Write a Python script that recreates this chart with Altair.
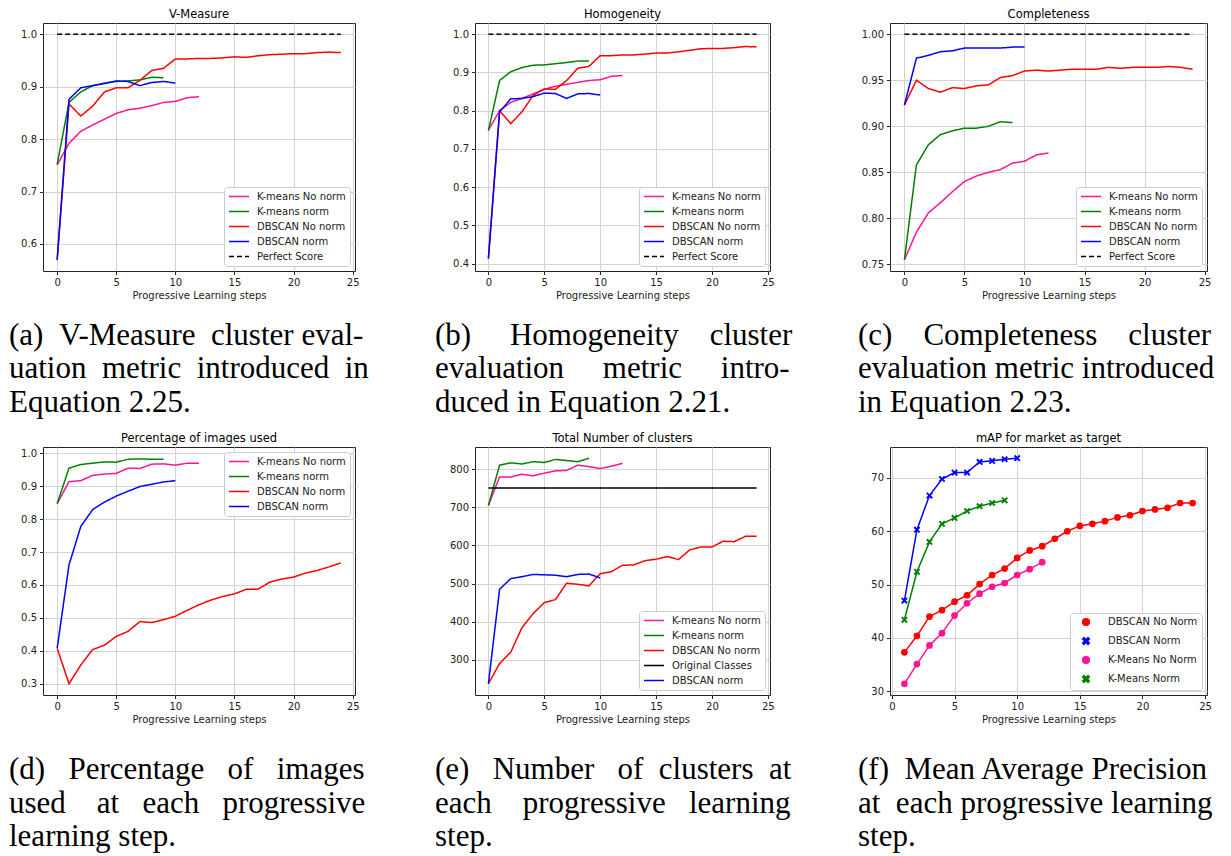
import altair as alt
import pandas as pd

# ---------------- data ----------------
STEPS = list(range(25))
MAP_STEPS = list(range(1, 25))

# (a) V-Measure
VM_KM_NONORM = [0.751, 0.792, 0.815, 0.827, 0.838, 0.849, 0.856, 0.859, 0.864, 0.870, 0.872, 0.879, 0.881]
VM_KM_NORM = [0.752, 0.870, 0.890, 0.902, 0.907, 0.910, 0.911, 0.913, 0.918, 0.917]
VM_DB_NONORM = [0.570, 0.867, 0.844, 0.863, 0.890, 0.898, 0.898, 0.912, 0.931, 0.935, 0.953, 0.953, 0.954,
                0.954, 0.955, 0.957, 0.956, 0.959, 0.961, 0.962, 0.963, 0.963, 0.965, 0.966, 0.965]
VM_DB_NORM = [0.570, 0.876, 0.898, 0.902, 0.906, 0.911, 0.910, 0.902, 0.908, 0.910, 0.907]

# (b) Homogeneity
HO_KM_NONORM = [0.749, 0.800, 0.822, 0.832, 0.844, 0.856, 0.864, 0.869, 0.874, 0.879, 0.881, 0.890, 0.892]
HO_KM_NORM = [0.748, 0.879, 0.902, 0.913, 0.919, 0.920, 0.923, 0.926, 0.930, 0.930]
HO_DB_NONORM = [0.413, 0.800, 0.766, 0.797, 0.840, 0.857, 0.856, 0.879, 0.911, 0.916, 0.944, 0.944, 0.946,
                0.946, 0.948, 0.951, 0.951, 0.954, 0.958, 0.962, 0.963, 0.963, 0.965, 0.968, 0.967]
HO_DB_NORM = [0.413, 0.797, 0.831, 0.832, 0.837, 0.846, 0.845, 0.832, 0.844, 0.845, 0.841]

# (c) Completeness
CO_KM_NONORM = [0.755, 0.785, 0.806, 0.817, 0.829, 0.840, 0.846, 0.850, 0.853, 0.860, 0.862, 0.869, 0.871]
CO_KM_NORM = [0.755, 0.858, 0.880, 0.891, 0.895, 0.898, 0.898, 0.900, 0.905, 0.904]
CO_DB_NONORM = [0.923, 0.950, 0.941, 0.937, 0.942, 0.941, 0.944, 0.945, 0.953, 0.955, 0.960, 0.961, 0.960,
                0.961, 0.962, 0.962, 0.962, 0.964, 0.963, 0.964, 0.964, 0.964, 0.965, 0.964, 0.962]
CO_DB_NORM = [0.923, 0.974, 0.977, 0.981, 0.982, 0.985, 0.985, 0.985, 0.985, 0.986, 0.986]

# (d) Percentage of images used
PI_KM_NONORM = [0.847, 0.914, 0.917, 0.933, 0.937, 0.939, 0.955, 0.954, 0.967, 0.968, 0.964, 0.970, 0.970]
PI_KM_NORM = [0.847, 0.955, 0.966, 0.970, 0.974, 0.973, 0.982, 0.983, 0.982, 0.982]
PI_DB_NONORM = [0.408, 0.300, 0.357, 0.404, 0.417, 0.444, 0.459, 0.489, 0.486, 0.495, 0.505, 0.523, 0.540,
                0.554, 0.565, 0.573, 0.587, 0.587, 0.609, 0.618, 0.624, 0.636, 0.644, 0.655, 0.667]
PI_DB_NORM = [0.408, 0.661, 0.778, 0.829, 0.852, 0.870, 0.885, 0.899, 0.906, 0.913, 0.917]

# (e) Total number of clusters
NC_KM_NONORM = [705, 780, 780, 787, 783, 790, 796, 797, 811, 807, 802, 808, 816]
NC_KM_NORM = [705, 811, 817, 814, 820, 818, 826, 823, 820, 829]
NC_DB_NONORM = [237, 290, 320, 384, 421, 450, 458, 501, 498, 494, 526, 531, 548, 549, 560, 564, 571, 563,
                588, 596, 596, 611, 610, 624, 624]
NC_DB_NORM = [237, 485, 513, 518, 524, 523, 522, 518, 524, 525, 515]
ORIGINAL_CLASSES = [751, 751]

# (f) mAP for market as target (steps start at 1)
MAP_DB_NONORM = [37.3, 40.4, 44.0, 45.2, 46.8, 48.0, 50.1, 51.8, 53.0, 55.0, 56.4, 57.2, 58.6, 60.0, 61.0,
                 61.4, 61.9, 62.6, 63.0, 63.8, 64.1, 64.4, 65.3, 65.3]
MAP_DB_NORM = [47.0, 60.3, 66.7, 69.8, 71.0, 71.0, 73.0, 73.2, 73.5, 73.7]
MAP_KM_NONORM = [31.4, 35.1, 38.6, 40.9, 44.2, 46.5, 48.3, 49.6, 50.3, 51.8, 52.9, 54.2]
MAP_KM_NORM = [43.4, 52.4, 58.0, 61.4, 62.5, 63.8, 64.7, 65.3, 65.8]

PERFECT = [1.0, 1.0]
FULL_SPAN = [0, 24]

SERIES4 = ["K-means No norm", "K-means norm", "DBSCAN No norm", "DBSCAN norm"]
MAP_SERIES = ["DBSCAN No Norm", "DBSCAN Norm", "K-Means No Norm", "K-Means Norm"]

CAPTIONS = {
    "a": ["(a) V-Measure cluster eval-", "uation metric introduced in", "Equation 2.25."],
    "b": ["(b) Homogeneity cluster", "evaluation metric intro-", "duced in Equation 2.21."],
    "c": ["(c) Completeness cluster", "evaluation metric introduced", "in Equation 2.23."],
    "d": ["(d) Percentage of images", "used at each progressive", "learning step."],
    "e": ["(e) Number of clusters at", "each progressive learning", "step."],
    "f": ["(f) Mean Average Precision", "at each progressive learning", "step."],
}

# ---------------- styling ----------------
FONT = "DejaVu Sans"
SERIF = "Liberation Serif"
CAP_SIZE = 31
PINK, GREEN, RED, BLUE, BLACK = "#ff1493", "#008000", "#ff0000", "#0000ff", "#000000"
SOLID, DASHED = [1, 0], [5, 3]
H = 248
W0, W1, W2 = 312, 295, 317
XTICKS = [0, 5, 10, 15, 20, 25]

# Liberation Serif (Times-compatible) advance widths, 1/1000 em, used to justify caption lines
TW = {' ': 250, '(': 333, ')': 333, '-': 333, '.': 250, 'a': 444, 'b': 500, 'c': 444, 'd': 500, 'e': 444,
      'f': 333, 'g': 500, 'h': 500, 'i': 278, 'j': 278, 'k': 500, 'l': 278, 'm': 778, 'n': 500, 'o': 500,
      'p': 500, 'q': 500, 'r': 333, 's': 389, 't': 278, 'u': 500, 'v': 500, 'w': 722, 'x': 500, 'y': 500,
      'z': 444, 'A': 722, 'C': 667, 'E': 611, 'H': 722, 'M': 889, 'N': 722, 'P': 556, 'V': 722}


def justify(lines, target):
    out = []
    for k, line in enumerate(lines):
        if k == len(lines) - 1:
            out.append(line)
            continue
        words = line.split(" ")
        natural = sum(TW.get(ch, 500) for ch in line) * CAP_SIZE / 1000.0
        n_extra = max(0, int((target - natural) / (0.25 * CAP_SIZE)))
        gaps = len(words) - 1
        pads = [n_extra // gaps + (1 if g < n_extra % gaps else 0) for g in range(gaps)]
        s = words[0]
        for g in range(gaps):
            s += " " + "\u00a0" * pads[g] + words[g + 1]
        out.append(s)
    return out


def long_df(names, xs_list, ys_list):
    rows = []
    for name, xs, ys in zip(names, xs_list, ys_list):
        for x, y in zip(xs, ys):
            rows.append({"series": name, "step": x, "value": y})
    return pd.DataFrame(rows)


def legend(orient, **extra):
    kw = dict(title=None, orient=orient, offset=5, fillColor="white", strokeColor="#cccccc",
              padding=4, cornerRadius=3, labelFont=FONT, labelFontSize=10, labelColor="#222222",
              rowPadding=4, labelLimit=200)
    kw.update(extra)
    return alt.Legend(**kw)


def title(text):
    return alt.TitleParams(text=text, font=FONT, fontSize=11.5, fontWeight="normal", color="black",
                           offset=3, anchor="middle")


def line_panel(ttl, names, colors, dashes, xs_list, ys_list, ydomain, yticks, yfmt, width, orient):
    df = long_df(names, xs_list, ys_list)
    lg = legend(orient, symbolType="stroke", symbolStrokeWidth=1.5, clipHeight=11, symbolSize=400,
                labelOffset=7)
    return alt.Chart(df).mark_line(strokeWidth=1.5).encode(
        x=alt.X("step:Q", scale=alt.Scale(domain=[-1.2, 25.2], nice=False, zero=False),
                axis=alt.Axis(values=XTICKS, format="d", title="Progressive Learning steps")),
        y=alt.Y("value:Q", scale=alt.Scale(domain=ydomain, nice=False, zero=False),
                axis=alt.Axis(values=yticks, format=yfmt, title=None)),
        color=alt.Color("series:N", scale=alt.Scale(domain=names, range=colors), legend=lg),
        strokeDash=alt.StrokeDash("series:N", scale=alt.Scale(domain=names, range=dashes), legend=lg),
    ).properties(width=width, height=H, title=title(ttl))


def caption(lines, width, ydom, dx, target):
    df = pd.DataFrame({"line": justify(lines, target), "i": list(range(len(lines)))})
    return alt.Chart(df).mark_text(align="left", baseline="middle", font=SERIF, fontSize=CAP_SIZE,
                                   dx=dx, color="black").encode(
        x=alt.value(0),
        y=alt.Y("i:Q", axis=None, scale=alt.Scale(domain=ydom, reverse=True, nice=False, zero=False)),
        text="line:N",
    ).properties(width=width, height=120, view=alt.ViewBackground(stroke="transparent"))


names5 = SERIES4 + ["Perfect Score"]
cols5 = [PINK, GREEN, RED, BLUE, BLACK]
dash5 = [SOLID, SOLID, SOLID, SOLID, DASHED]

pa = line_panel("V-Measure", names5, cols5, dash5,
                [STEPS, STEPS, STEPS, STEPS, FULL_SPAN],
                [VM_KM_NONORM, VM_KM_NORM, VM_DB_NONORM, VM_DB_NORM, PERFECT],
                [0.5485, 1.0215], [0.6, 0.7, 0.8, 0.9, 1.0], ".1f", W0, "bottom-right")
pb = line_panel("Homogeneity", names5, cols5, dash5,
                [STEPS, STEPS, STEPS, STEPS, FULL_SPAN],
                [HO_KM_NONORM, HO_KM_NORM, HO_DB_NONORM, HO_DB_NORM, PERFECT],
                [0.3805, 1.0295], [0.4, 0.5, 0.6, 0.7, 0.8, 0.9, 1.0], ".1f", W1, "bottom-right")
pc = line_panel("Completeness", names5, cols5, dash5,
                [STEPS, STEPS, STEPS, STEPS, FULL_SPAN],
                [CO_KM_NONORM, CO_KM_NORM, CO_DB_NONORM, CO_DB_NORM, PERFECT],
                [0.7428, 1.0122], [0.75, 0.80, 0.85, 0.90, 0.95, 1.00], ".2f", W2, "bottom-right")
pd_ = line_panel("Percentage of images used", SERIES4, [PINK, GREEN, RED, BLUE], [SOLID] * 4,
                 [STEPS, STEPS, STEPS, STEPS],
                 [PI_KM_NONORM, PI_KM_NORM, PI_DB_NONORM, PI_DB_NORM],
                 [0.2658, 1.0192], [0.3, 0.4, 0.5, 0.6, 0.7, 0.8, 0.9, 1.0], ".1f", W0, "top-right")
names_e = ["K-means No norm", "K-means norm", "DBSCAN No norm", "Original Classes", "DBSCAN norm"]
pe = line_panel("Total Number of clusters", names_e, [PINK, GREEN, RED, BLACK, BLUE], [SOLID] * 5,
                [STEPS, STEPS, STEPS, FULL_SPAN, STEPS],
                [NC_KM_NONORM, NC_KM_NORM, NC_DB_NONORM, ORIGINAL_CLASSES, NC_DB_NORM],
                [207.4, 858.6], [300, 400, 500, 600, 700, 800], "d", W1, "bottom-right")

# (f) lines with markers
X_PATH = "M-1,-0.6L-0.6,-1L0,-0.4L0.6,-1L1,-0.6L0.4,0L1,0.6L0.6,1L0,0.4L-0.6,1L-1,0.6L-0.4,0Z"
# legend symbols: short line segment with the marker in its middle (straight segments only)
SEG = "M-3,-0.22L3,-0.22L3,0.22L-3,0.22Z"
DISC = ("M1,0L0.866,0.5L0.5,0.866L0,1L-0.5,0.866L-0.866,0.5L-1,0L-0.866,-0.5L-0.5,-0.866L0,-1"
        "L0.5,-0.866L0.866,-0.5Z")
LEG_CIRCLE = SEG + DISC
LEG_X = SEG + X_PATH
leg_shape_expr = ("indexof(['DBSCAN Norm','K-Means Norm'], datum.value) >= 0 ? '%s' : '%s'"
                  % (LEG_X, LEG_CIRCLE))
df_f = long_df(MAP_SERIES, [MAP_STEPS] * 4, [MAP_DB_NONORM, MAP_DB_NORM, MAP_KM_NONORM, MAP_KM_NORM])
lg_f = legend("bottom-right", symbolType=alt.ExprRef(expr=leg_shape_expr), symbolSize=45,
              symbolOffset=7, labelOffset=17, rowPadding=5)
color_f = alt.Color("series:N", scale=alt.Scale(domain=MAP_SERIES, range=[RED, BLUE, PINK, GREEN]), legend=lg_f)
shape_f = alt.Shape("series:N", scale=alt.Scale(domain=MAP_SERIES, range=["circle", X_PATH, "circle", X_PATH]),
                    legend=None)
base_f = alt.Chart(df_f).encode(
    x=alt.X("step:Q", scale=alt.Scale(domain=[-0.15, 25.15], nice=False, zero=False),
            axis=alt.Axis(values=XTICKS, format="d", title="Progressive Learning steps")),
    y=alt.Y("value:Q", scale=alt.Scale(domain=[29.3, 75.8], nice=False, zero=False),
            axis=alt.Axis(values=[30, 40, 50, 60, 70], format="d", title=None)),
)
pf = alt.layer(
    base_f.mark_line(strokeWidth=1.5).encode(color=color_f),
    base_f.mark_point(filled=True, size=45, opacity=1).encode(color=color_f, shape=shape_f),
).properties(width=W2, height=H, title=title("mAP for market as target"))

# caption line placement (linear index scale over the 120px caption cell)
R1 = [-1.104, 2.478]
R2 = [-1.403, 2.179]
T0, T1, T2 = 360, 358, 357
cells = [
    pa, pb, pc,
    caption(CAPTIONS["a"], W0, R1, -34, T0), caption(CAPTIONS["b"], W1, R1, -40, T1),
    caption(CAPTIONS["c"], W2, R1, -32, T2),
    pd_, pe, pf,
    caption(CAPTIONS["d"], W0, R2, -34, T0), caption(CAPTIONS["e"], W1, R2, -40, T1),
    caption(CAPTIONS["f"], W2, R2, -32, T2),
]

chart = alt.concat(*cells, columns=3, spacing=alt.RowColnumber(row=28, column=120), bounds="flush").resolve_scale(
    color="independent", strokeDash="independent", shape="independent", x="independent", y="independent"
).properties(
    padding=0
).configure_view(stroke="#222222", strokeWidth=1).configure_axis(
    labelFont=FONT, labelFontSize=10, labelColor="#222222", titleFont=FONT, titleFontSize=10,
    titleFontWeight="normal", titleColor="#222222", grid=True, gridColor="#d3d3d3", gridWidth=1,
    domain=False, tickColor="#222222", tickSize=3.5, labelPadding=3, titlePadding=3,
)

chart.save("out.html", embed_options={"renderer": "svg", "actions": False})
